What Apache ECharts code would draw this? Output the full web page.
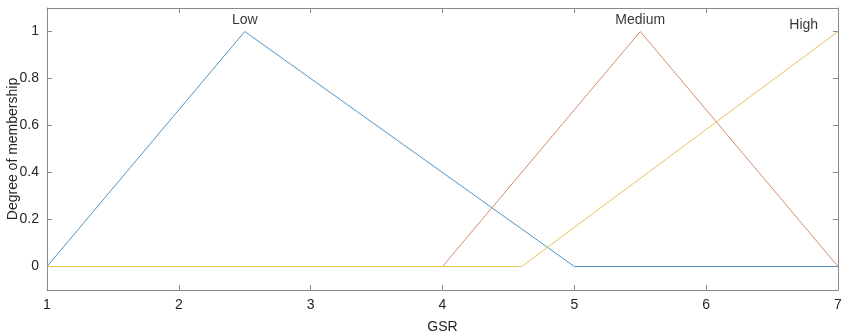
<!DOCTYPE html>
<html><head><meta charset="utf-8">
<script src="https://cdn.jsdelivr.net/npm/echarts@6/dist/echarts.min.js"></script>
<style>html,body{margin:0;padding:0;background:#fff}#c{width:842px;height:335px}</style>
</head><body><div id="c"></div>
<script>
const lowPts = [[1,0],[2.5,1],[5,0],[7,0]];
const medPts = [[1,0],[4,0],[5.5,1],[7,0]];
const highPts = [[1,0],[4.6,0],[7,1]];
const mfNames = ['Low','Medium','High'];
const labelPos = [[2.5,1.05],[5.5,1.05],[6.74,1.026]];
const xTicks = [1,2,3,4,5,6,7];
const yTicks = [0,0.2,0.4,0.6,0.8,1];

const chart = echarts.init(document.getElementById('c'), null, {renderer:'canvas'});
const axisCol = '#8a8a8a';
const txtCol = '#262626';
const font = 'Liberation Sans, Arial, Helvetica, sans-serif';
const lineStyleAxis = {color: axisCol, width: 1};
function mkLine(name, pts, color){
  return {type:'line', name, data: pts, symbol:'none', xAxisIndex:0, yAxisIndex:0,
    lineStyle:{color, width:1}, itemStyle:{color}, silent:true, animation:false};
}
chart.setOption({
  animation:false,
  grid:{left:47, right:4, top:8, bottom:45, show:false, containLabel:false, outerBoundsMode:'none'},
  xAxis:[{
    type:'value', min:1, max:7, interval:1, position:'bottom',
    name:'GSR', nameLocation:'middle', nameGap:30, nameMoveOverlap:false,
    nameTextStyle:{color:txtCol, fontSize:14, fontFamily:font},
    axisLine:{show:true, onZero:false, lineStyle:lineStyleAxis},
    axisTick:{show:true, inside:true, length:5, lineStyle:lineStyleAxis},
    axisLabel:{color:txtCol, fontSize:14, fontFamily:font, margin:8},
    splitLine:{show:false}
  },{
    type:'value', min:1, max:7, interval:1, position:'top',
    axisLine:{show:true, onZero:false, lineStyle:lineStyleAxis},
    axisTick:{show:true, inside:true, length:5, lineStyle:lineStyleAxis},
    axisLabel:{show:false}, splitLine:{show:false}
  }],
  yAxis:[{
    type:'value', min:-0.1, max:1.1, position:'left',
    name:'Degree of membership', nameLocation:'middle', nameGap:27, nameRotate:90,
    nameMoveOverlap:false,
    nameTextStyle:{color:txtCol, fontSize:14, fontFamily:font},
    axisLine:{show:true, onZero:false, lineStyle:lineStyleAxis},
    axisTick:{show:true, inside:true, length:5, lineStyle:lineStyleAxis, customValues: yTicks},
    axisLabel:{color:txtCol, fontSize:14, fontFamily:font, margin:8, customValues: yTicks,
      formatter: v => String(Math.round(v*10)/10)},
    splitLine:{show:false}
  },{
    type:'value', min:-0.1, max:1.1, position:'right',
    axisLine:{show:true, onZero:false, lineStyle:lineStyleAxis},
    axisTick:{show:true, inside:true, length:5, lineStyle:lineStyleAxis, customValues: yTicks},
    axisLabel:{show:false}, splitLine:{show:false}
  }],
  series:[
    mkLine('Low', lowPts, '#4f93c4'),
    mkLine('Medium', medPts, '#d58a6c'),
    mkLine('High', highPts, '#e6c358'),
    {type:'scatter', symbolSize:0, silent:true,
     data: labelPos.map((p,i)=>({value:p, name:mfNames[i]})),
     label:{show:true, position:'inside', formatter: p=>p.name, color:'#000',
       fontSize:14, fontFamily:font}}
  ]
});
</script></body></html>
